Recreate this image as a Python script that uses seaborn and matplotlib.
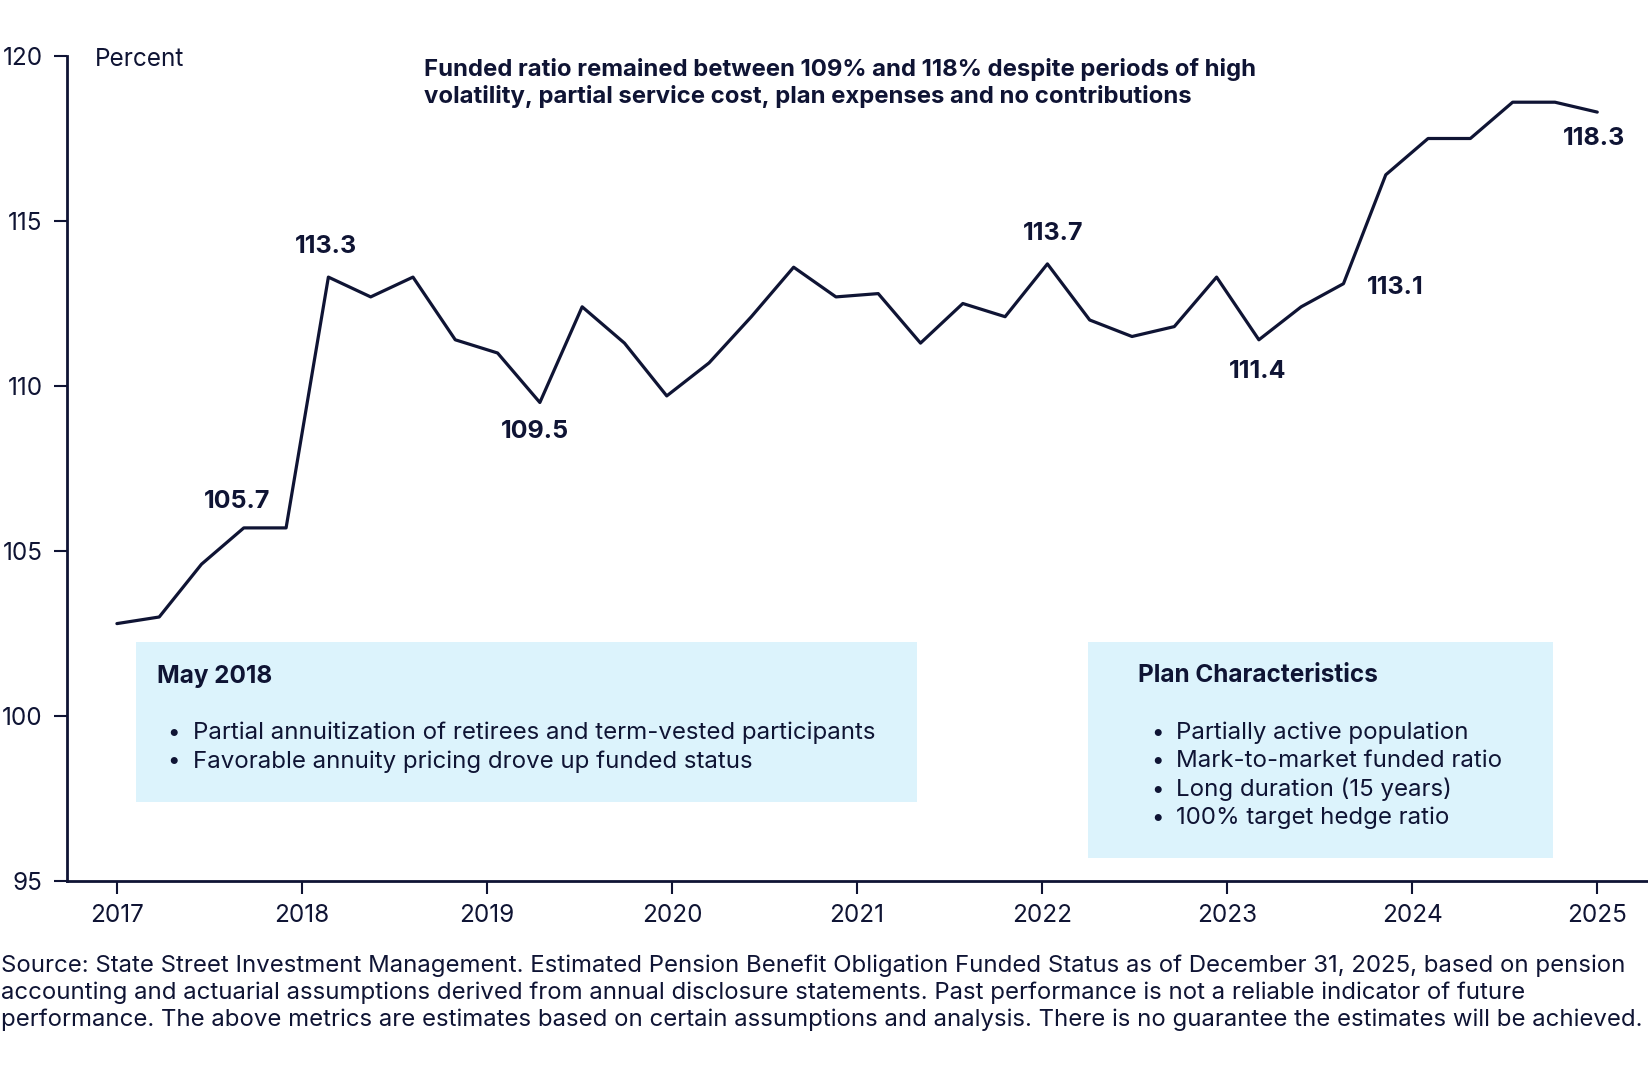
import numpy as np
import matplotlib
matplotlib.use('Agg')
import matplotlib.pyplot as plt
from matplotlib.patches import Rectangle
import seaborn as sns

# quarterly funded ratio, 2017 Q1 .. 2025 Q4 (percent)
funded_ratio = [102.8, 103.0, 104.6, 105.7, 105.7, 113.3, 112.7, 113.3, 111.4, 111.0,
                109.5, 112.4, 111.3, 109.7, 110.7, 112.1, 113.6, 112.7, 112.8, 111.3,
                112.5, 112.1, 113.7, 112.0, 111.5, 111.8, 113.3, 111.4, 112.4, 113.1,
                116.4, 117.5, 117.5, 118.6, 118.6, 118.3]
year_labels = ['2017', '2018', '2019', '2020', '2021', '2022', '2023', '2024', '2025']
y_ticks = [95, 100, 105, 110, 115, 120]

# points that get a value label, with offset (pixels) of the label centre
label_idx = [3, 5, 10, 22, 27, 29, 35]
label_off = [(-7, 26), (-2, 31), (-5, -29), (6, 30), (-1, -32), (52, -4), (-3, -26)]

title = ('Funded ratio remained between 109% and 118% despite periods of high\n'
         'volatility, partial service cost, plan expenses and no contributions')
box1_head = 'May 2018'
box1_items = ['Partial annuitization of retirees and term-vested participants',
              'Favorable annuity pricing drove up funded status']
box2_head = 'Plan Characteristics'
box2_items = ['Partially active population', 'Mark-to-market funded ratio',
              'Long duration (15 years)', '100% target hedge ratio']
source = ('Source: State Street Investment Management. Estimated Pension Benefit Obligation Funded Status as of December 31, 2025, based on pension\n'
          'accounting and actuarial assumptions derived from annual disclosure statements. Past performance is not a reliable indicator of future\n'
          'performance. The above metrics are estimates based on certain assumptions and analysis. There is no guarantee the estimates will be achieved.')

NAVY = '#0f1434'
BOX = '#dcf3fc'
W, H = 1648, 1080

sns.set_theme(style='white')
plt.rcParams['font.family'] = ['Inter', 'DejaVu Sans']
plt.rcParams['text.color'] = NAVY

fig = plt.figure(figsize=(W / 100, H / 100), dpi=100)
ax = fig.add_axes([67 / W, 1 - 881 / H, 1 - 67 / W, (881 - 56) / H])

df_x = np.arange(len(funded_ratio))
sns.lineplot(x=df_x, y=funded_ratio, ax=ax, color=NAVY, linewidth=2.3)

ax.set_xlim(-1.18, 36.2)
ax.set_ylim(95, 120)
ax.set_xticks(np.linspace(0, len(funded_ratio) - 1, len(year_labels)))
ax.set_xticklabels(year_labels)
ax.set_yticks(y_ticks)
ax.set_yticks([120], minor=True)
ax.tick_params(axis='both', which='major', direction='out', length=9.5, width=1.5,
               color=NAVY, labelcolor=NAVY, labelsize=17.5, bottom=True, left=True)
ax.tick_params(axis='x', pad=7)
ax.tick_params(axis='y', pad=8)
ax.tick_params(axis='y', which='minor', direction='in', length=9.5, width=1.5, color=NAVY, left=True)
ax.set_xlabel('')
ax.set_ylabel('')
sns.despine(ax=ax)
for s in ['left', 'bottom']:
    ax.spines[s].set_color(NAVY)
    ax.spines[s].set_linewidth(2)

for i, (dx, dy) in zip(label_idx, label_off):
    ax.annotate(f'{funded_ratio[i]:.1f}', (df_x[i], funded_ratio[i]), xytext=(dx, dy),
                textcoords='offset pixels', ha='center', va='center',
                fontsize=18, fontweight='bold', color=NAVY)


def px(x, y):
    return x / W, 1 - y / H


fig.text(*px(95, 60), 'Percent', fontsize=17.5, va='center', ha='left')
fig.text(*px(424, 83), title, fontsize=17.2, fontweight='bold', va='center', ha='left',
         linespacing=1.2)

# annotation boxes
for (x0, y0, x1, y1) in [(136, 642, 917, 802), (1088, 642, 1553, 858)]:
    ax.add_patch(Rectangle(px(x0, y1), (x1 - x0) / W, (y1 - y0) / H,
                           transform=fig.transFigure, facecolor=BOX, edgecolor='none',
                           clip_on=False, zorder=0))

fig.text(*px(157, 676), box1_head, fontsize=17.5, fontweight='bold', va='center')
for k, item in enumerate(box1_items):
    fig.text(*px(173, 733 + 28.3 * k), '•', fontsize=16, va='center', ha='center')
    fig.text(*px(193, 733 + 28.3 * k), item, fontsize=17.3, va='center')

fig.text(*px(1138, 676), box2_head, fontsize=17.5, fontweight='bold', va='center')
for k, item in enumerate(box2_items):
    fig.text(*px(1157, 733 + 28.3 * k), '•', fontsize=16, va='center', ha='center')
    fig.text(*px(1176, 733 + 28.3 * k), item, fontsize=17.3, va='center')

fig.text(*px(1, 993), source, fontsize=17.25, va='center', ha='left', linespacing=1.26)

fig.savefig('out.png', dpi=100, facecolor='white')
